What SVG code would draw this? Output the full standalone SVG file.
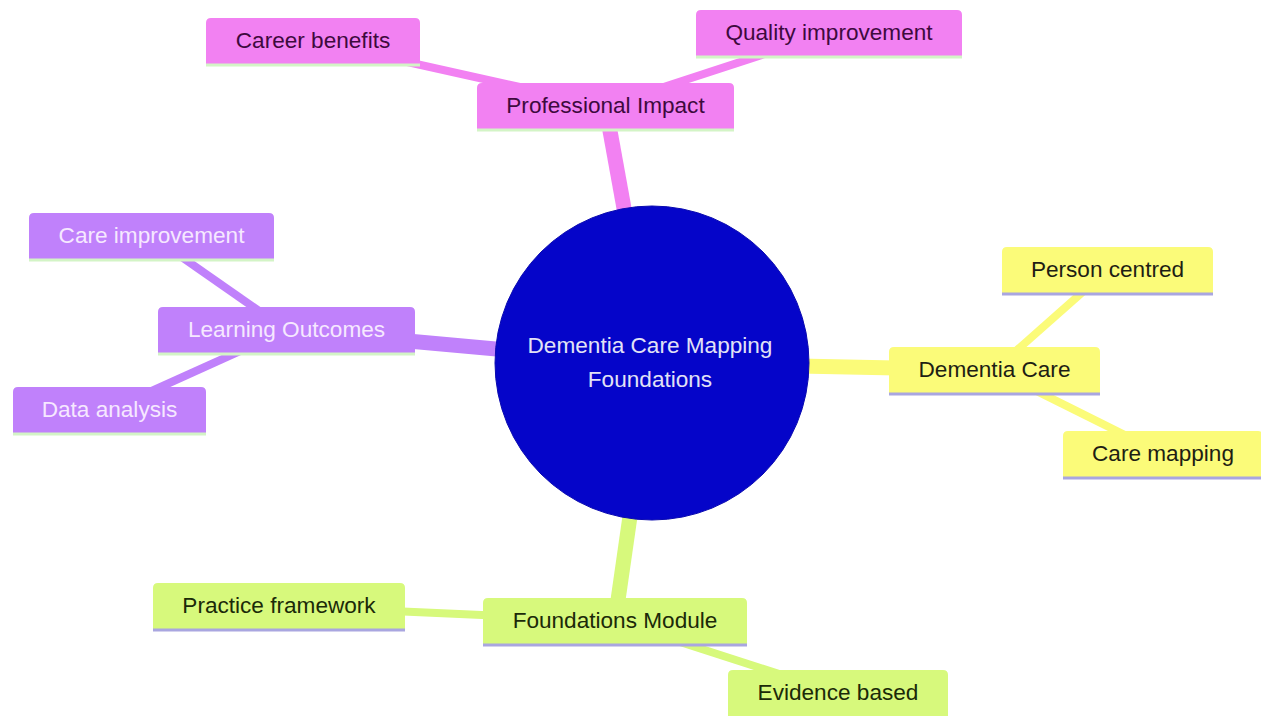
<svg xmlns="http://www.w3.org/2000/svg" width="1261" height="716" viewBox="0 0 1261 716">
<style>
text{font-family:"Liberation Sans",Arial,sans-serif;font-size:22.6px;text-anchor:middle}
.e0{fill:none;stroke-width:15}
.e1{fill:none;stroke-width:8}
.pk{fill:#f281f2}.pkS{stroke:#f281f2}
.pu{fill:#c081fb}.puS{stroke:#c081fb}
.ye{fill:#fbfb79}.yeS{stroke:#fbfb79}
.gr{fill:#d7f97c}.grS{stroke:#d7f97c}
.lg{stroke:#d3f4c6;stroke-width:3}
.lv{stroke:#a9a6e0;stroke-width:3}
.tpk{fill:#3e0a3e}.tpu{fill:#f6e8ff}.tye{fill:#1e1e14}.tgr{fill:#1b2a08}
</style>
<rect width="1261" height="716" fill="#ffffff"/>
<g id="connectors">
<line class="e0 pkS" x1="652" y1="363" x2="605.5" y2="106"/>
<line class="e1 pkS" x1="605.5" y1="106" x2="313" y2="41"/>
<line class="e1 pkS" x1="605.5" y1="106" x2="829" y2="33"/>
<line class="e0 yeS" x1="652" y1="363" x2="994.5" y2="370"/>
<line class="e1 yeS" x1="994.5" y1="370" x2="1107.5" y2="270"/>
<line class="e1 yeS" x1="994.5" y1="370" x2="1163" y2="454"/>
<line class="e0 puS" x1="652" y1="363" x2="286.5" y2="330"/>
<line class="e1 puS" x1="286.5" y1="330" x2="151.5" y2="236"/>
<line class="e1 puS" x1="286.5" y1="330" x2="109.5" y2="410"/>
<line class="e0 grS" x1="652" y1="363" x2="615" y2="621"/>
<line class="e1 grS" x1="615" y1="621" x2="279" y2="606"/>
<line class="e1 grS" x1="615" y1="621" x2="838" y2="693"/>
</g>
<g id="root">
<circle cx="652" cy="363" r="157" fill="#0505c9" stroke="#0a0ab0" stroke-width="1"/>
<text x="650" y="353" fill="#e2e2f6">Dementia Care Mapping</text>
<text x="650" y="387" fill="#e2e2f6">Foundations</text>
</g>
<g id="professional-impact">
<path class="pk" d="M477 129 V88 Q477 83 482 83 H729 Q734 83 734 88 V129 Z"/>
<line class="lg" x1="477" y1="130" x2="734" y2="130"/>
<text class="tpk" x="605.5" y="113">Professional Impact</text>
</g>
<g id="career-benefits">
<path class="pk" d="M206 64 V23 Q206 18 211 18 H415 Q420 18 420 23 V64 Z"/>
<line class="lg" x1="206" y1="65" x2="420" y2="65"/>
<text class="tpk" x="313" y="48">Career benefits</text>
</g>
<g id="quality-improvement">
<path class="pk" d="M696 56 V15 Q696 10 701 10 H957 Q962 10 962 15 V56 Z"/>
<line class="lg" x1="696" y1="57" x2="962" y2="57"/>
<text class="tpk" x="829" y="40">Quality improvement</text>
</g>
<g id="dementia-care">
<path class="ye" d="M889 393 V352 Q889 347 894 347 H1095 Q1100 347 1100 352 V393 Z"/>
<line class="lv" x1="889" y1="394" x2="1100" y2="394"/>
<text class="tye" x="994.5" y="377">Dementia Care</text>
</g>
<g id="person-centred">
<path class="ye" d="M1002 293 V252 Q1002 247 1007 247 H1208 Q1213 247 1213 252 V293 Z"/>
<line class="lv" x1="1002" y1="294" x2="1213" y2="294"/>
<text class="tye" x="1107.5" y="277">Person centred</text>
</g>
<g id="care-mapping">
<path class="ye" d="M1063 477 V436 Q1063 431 1068 431 H1258 Q1263 431 1263 436 V477 Z"/>
<line class="lv" x1="1063" y1="478" x2="1263" y2="478"/>
<text class="tye" x="1163" y="461">Care mapping</text>
</g>
<g id="learning-outcomes">
<path class="pu" d="M158 353 V312 Q158 307 163 307 H410 Q415 307 415 312 V353 Z"/>
<line class="lg" x1="158" y1="354" x2="415" y2="354"/>
<text class="tpu" x="286.5" y="337">Learning Outcomes</text>
</g>
<g id="care-improvement">
<path class="pu" d="M29 259 V218 Q29 213 34 213 H269 Q274 213 274 218 V259 Z"/>
<line class="lg" x1="29" y1="260" x2="274" y2="260"/>
<text class="tpu" x="151.5" y="243">Care improvement</text>
</g>
<g id="data-analysis">
<path class="pu" d="M13 433 V392 Q13 387 18 387 H201 Q206 387 206 392 V433 Z"/>
<line class="lg" x1="13" y1="434" x2="206" y2="434"/>
<text class="tpu" x="109.5" y="417">Data analysis</text>
</g>
<g id="foundations-module">
<path class="gr" d="M483 644 V603 Q483 598 488 598 H742 Q747 598 747 603 V644 Z"/>
<line class="lv" x1="483" y1="645" x2="747" y2="645"/>
<text class="tgr" x="615" y="628">Foundations Module</text>
</g>
<g id="practice-framework">
<path class="gr" d="M153 629 V588 Q153 583 158 583 H400 Q405 583 405 588 V629 Z"/>
<line class="lv" x1="153" y1="630" x2="405" y2="630"/>
<text class="tgr" x="279" y="613">Practice framework</text>
</g>
<g id="evidence-based">
<path class="gr" d="M728 716 V675 Q728 670 733 670 H943 Q948 670 948 675 V716 Z"/>
<text class="tgr" x="838" y="700">Evidence based</text>
</g>
</svg>
